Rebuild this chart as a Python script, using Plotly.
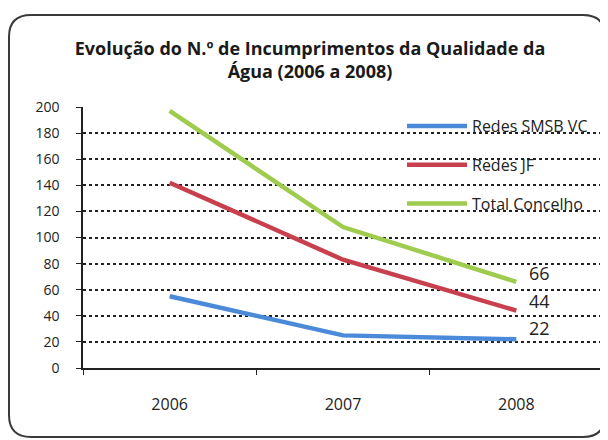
import plotly.graph_objects as go

years = ["2006", "2007", "2008"]
redes_smsb = [55, 25, 22]
redes_jf = [142, 83, 44]
total_concelho = [197, 108, 66]
series_names = ["Redes SMSB VC", "Redes JF", "Total Concelho"]
series_colors = ["#4a8ad8", "#c8404e", "#9fcb4e"]
end_labels = ["22", "44", "66"]
y_ticks = [0, 20, 40, 60, 80, 100, 120, 140, 160, 180, 200]

# page body has an 8px margin; figure is laid out in its own coordinates
W, H = 600, 432
L, R, T, B = 75, 5, 99, 72
PW, PH = W - L - R, H - T - B

FONT = "Open Sans, Lato, sans-serif"

fig = go.Figure()
for i, (name, vals, col) in enumerate(zip(series_names,
                                          [redes_smsb, redes_jf, total_concelho],
                                          series_colors)):
    fig.add_trace(go.Scatter(
        x=years, y=vals, name=name, mode="lines",
        line=dict(color=col, width=4.5),
        legendgroup=f"g{i}",
        hoverinfo="skip",
    ))

last_idx = len(years) - 1
label_yshift = [11, 10, 9]
for vals, lab, ys in zip([redes_smsb, redes_jf, total_concelho], end_labels, label_yshift):
    fig.add_annotation(x=last_idx, y=vals[-1], text=lab, showarrow=False,
                       xanchor="left", yanchor="middle", xshift=11, yshift=ys,
                       font=dict(family=FONT, size=18, color="#222222"))


def px2paper(px, py):
    return (px - L) / PW, (H - B - py) / PH


def rounded_rect(x0, y0, x1, y1, r):
    def P(x, y):
        a, b = px2paper(x, y)
        return f"{a:.5f},{b:.5f}"
    d = f"M {P(x0 + r, y0)} L {P(x1 - r, y0)} Q {P(x1, y0)} {P(x1, y0 + r)} "
    d += f"L {P(x1, y1 - r)} Q {P(x1, y1)} {P(x1 - r, y1)} "
    d += f"L {P(x0 + r, y1)} Q {P(x0, y1)} {P(x0, y1 - r)} "
    d += f"L {P(x0, y0 + r)} Q {P(x0, y0)} {P(x0 + r, y0)} Z"
    return d


fig.add_shape(type="path", xref="paper", yref="paper",
              path=rounded_rect(1, 7, 597, 429, 22),
              line=dict(color="#3a3a3a", width=2), layer="below")

fig.update_layout(
    width=W, height=H,
    margin=dict(l=L, r=R, t=T, b=B, autoexpand=False),
    paper_bgcolor="white", plot_bgcolor="white",
    title=dict(
        text="<b>Evolução do N.º de Incumprimentos da Qualidade da<br>Água (2006 a 2008)</b>",
        x=(310 - 8) / W, xanchor="center", y=1 - 47 / H, yanchor="top",
        font=dict(family=FONT, size=18, color="#1a1a1a"),
        automargin=False,
    ),
    showlegend=True,
    legend=dict(
        x=(394 - L) / PW, xanchor="left",
        y=(H - B - 101) / PH, yanchor="top",
        bgcolor="rgba(0,0,0,0)",
        font=dict(family=FONT, size=16, color="#222222"),
        tracegroupgap=15, traceorder="grouped",
        itemwidth=60,
    ),
    xaxis=dict(
        type="category", range=[-0.5, 2.5], automargin=False,
        showline=True, linecolor="#222222", linewidth=1.5,
        ticks="outside", tickson="boundaries", ticklen=5, tickcolor="#222222",
        showgrid=False,
        tickfont=dict(family=FONT, size=16, color="#222222"),
        ticklabelstandoff=21,
    ),
    yaxis=dict(
        range=[0, 200], tickvals=y_ticks, automargin=False,
        showline=True, linecolor="#222222", linewidth=1.5,
        ticks="outside", ticklen=5, tickcolor="#222222",
        showgrid=True, gridcolor="#222222", griddash="dot", gridwidth=1.5,
        zeroline=False,
        tickfont=dict(family=FONT, size=14, color="#222222"),
        ticklabelstandoff=14,
    ),
)

fig.write_html("out.html")
